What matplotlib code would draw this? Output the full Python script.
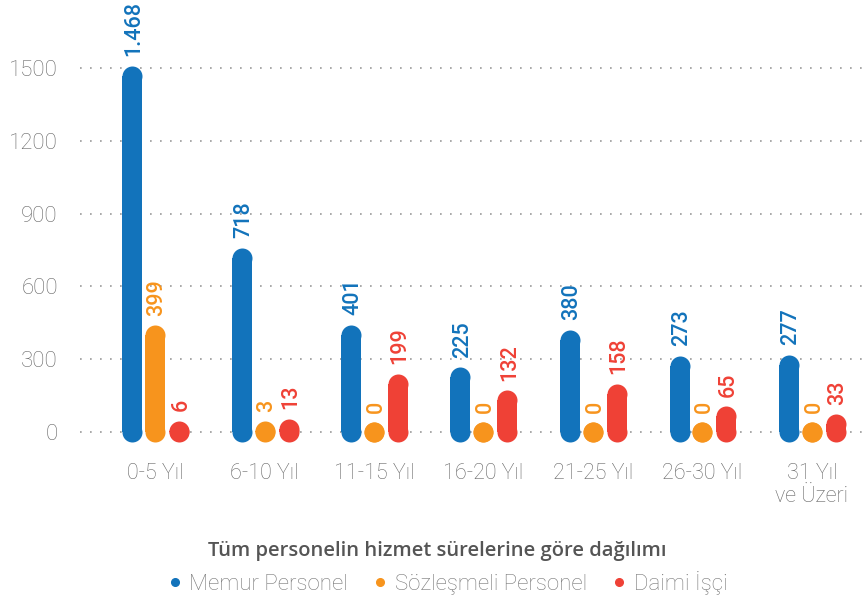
import matplotlib
matplotlib.use("Agg")
import matplotlib.pyplot as plt
from matplotlib.lines import Line2D
import numpy as np

categories = ["0-5 Yıl", "6-10 Yıl", "11-15 Yıl", "16-20 Yıl", "21-25 Yıl", "26-30 Yıl", "31 Yıl\nve Üzeri"]
series_names = ["Memur Personel", "Sözleşmeli Personel", "Daimi İşçi"]
memur = [1468, 718, 401, 225, 380, 273, 277]
sozlesmeli = [399, 3, 0, 0, 0, 0, 0]
daimi = [6, 13, 199, 132, 158, 65, 33]
yticks = [0, 300, 600, 900, 1200, 1500]
title = "Tüm personelin hizmet sürelerine göre dağılımı"

colors = ["#1273BB", "#F7941D", "#EF4136"]
plt.rcParams['font.family'] = ['Roboto', 'DejaVu Sans']

W, H = 866, 601
fig = plt.figure(figsize=(W/100, H/100), dpi=100)

# axes: pixel rows 0..460, columns 80..866
ax = fig.add_axes([80/W, (H-460)/H, (W-80)/W, 460/H])
scale = 364/1500.0
ax.set_ylim(-(460-432)/scale, 1500 + 68/scale)
sp = 109.5
ax.set_xlim((80-155)/sp, (866-155)/sp)

def fmt(v):
    return f"{v:,}".replace(",", ".")

x = np.arange(len(categories))
offsets = [-23/sp, 0, 24/sp]
lw = 20 * 72/100.0
for s, (vals, off, c) in enumerate(zip([memur, sozlesmeli, daimi], offsets, colors)):
    xs = x + off
    for xi, v in zip(xs, vals):
        ax.plot([xi, xi], [0, v], color=c, lw=lw, solid_capstyle='butt', zorder=3)
        ax.plot([xi, xi], [0, v], color=c, ls='', marker='o', markersize=lw,
                markeredgewidth=0, zorder=3)
        ax.annotate(fmt(v), (xi, v), xytext=(1.5, 14), textcoords='offset points',
                    rotation=90, ha='center', va='bottom', color=c,
                    fontsize=15.5, fontweight='medium', zorder=4)

ax.set_yticks(yticks)
ax.set_yticklabels([str(t) for t in yticks])
ax.grid(axis='y', linestyle=(0, (1, 5)), color='#999999', lw=1.2, zorder=0)
ax.set_xticks(x)
ax.set_xticklabels(categories, linespacing=1.15)
for sp_ in ax.spines.values():
    sp_.set_visible(False)
ax.tick_params(axis='both', length=0)
ax.tick_params(axis='y', pad=16, labelsize=16)
ax.tick_params(axis='x', pad=2, labelsize=15.5)
for lab in ax.get_xticklabels() + ax.get_yticklabels():
    lab.set_fontweight('light')
    lab.set_color('#666666')

fig.text(437/W, 1 - 551/H, title, ha='center', va='center', fontsize=14.5,
         fontweight='semibold', color='#555555', family=['Open Sans', 'DejaVu Sans'])

handles = [Line2D([], [], marker='o', ls='', color=c, markersize=5.5) for c in colors]
leg = fig.legend(handles, series_names, loc='center', bbox_to_anchor=(447/W, 1 - 583/H),
                 ncol=3, frameon=False, handletextpad=0.3,
                 columnspacing=1.1, handlelength=0.7,
                 prop={'size': 16, 'weight': 'light', 'family': ['Roboto', 'DejaVu Sans']})
for t in leg.get_texts():
    t.set_color('#777777')

fig.savefig("out.png", dpi=100)
